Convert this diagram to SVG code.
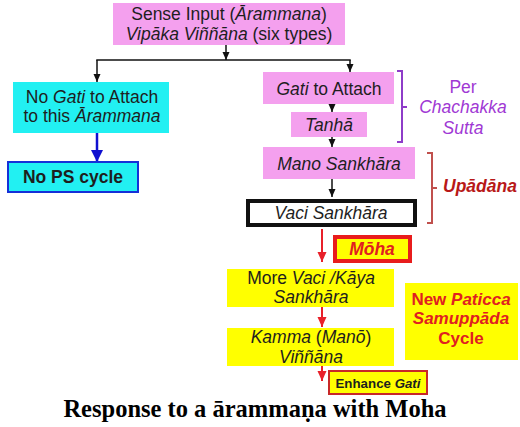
<svg xmlns="http://www.w3.org/2000/svg" width="520" height="427" viewBox="0 0 520 427">
<defs>
<style>
text{font-family:"Liberation Sans",Arial,sans-serif;font-size:17.5px;fill:#1e1e1e;text-anchor:middle}
.i{font-style:italic}
.b{font-weight:bold}
.pink{fill:#F4A0EE}
.cyan{fill:#22F0F2}
.yel{fill:#FFFF00}
.blk{stroke:#111;stroke-width:1.5;fill:none}
.red{stroke:#E8202A;stroke-width:2;fill:none}
</style>
<marker id="ab" markerUnits="userSpaceOnUse" markerWidth="8" markerHeight="8" refX="8" refY="4" orient="auto"><path d="M0,0.5 L8,4 L0,7.5 z" fill="#111"/></marker>
<marker id="ar" markerUnits="userSpaceOnUse" markerWidth="10" markerHeight="10" refX="10" refY="5" orient="auto"><path d="M0,0.5 L10,5 L0,9.5 z" fill="#E8202A"/></marker>
<marker id="au" markerUnits="userSpaceOnUse" markerWidth="12" markerHeight="12" refX="12" refY="6" orient="auto"><path d="M0,0 L12,6 L0,12 z" fill="#1010D0"/></marker>
</defs>
<rect width="520" height="427" fill="#fff"/>

<g id="connectors">
<line class="blk" x1="226" y1="45" x2="226" y2="60" marker-end="url(#ab)"/>
<line class="blk" x1="96.25" y1="60" x2="350.75" y2="60"/>
<line class="blk" x1="97" y1="60" x2="97" y2="82" marker-end="url(#ab)"/>
<line class="blk" x1="350" y1="60" x2="350" y2="72" marker-end="url(#ab)"/>
<line x1="97" y1="133" x2="97" y2="162" stroke="#1010D0" stroke-width="2.5" marker-end="url(#au)"/>
<line class="blk" x1="332" y1="104" x2="332" y2="112" marker-end="url(#ab)"/>
<line class="blk" x1="332" y1="137" x2="332" y2="147" marker-end="url(#ab)"/>
<line class="blk" x1="332" y1="179" x2="332" y2="197" marker-end="url(#ab)"/>
<line class="red" x1="322" y1="229" x2="322" y2="262" marker-end="url(#ar)"/>
<line class="red" x1="322" y1="307" x2="322" y2="327" marker-end="url(#ar)"/>
<line class="red" x1="322" y1="366" x2="322" y2="381" marker-end="url(#ar)"/>
<path d="M397,71 H402 V142 H397 M402,107 H407" stroke="#8E3CC8" stroke-width="2" fill="none"/>
<path d="M427,153 H432 V223 H427 M432,188 H437" stroke="#C0504D" stroke-width="2" fill="none"/>
</g>

<g id="sense-input">
<rect class="pink" x="113" y="3" width="232" height="42"/>
<text x="229" y="20">Sense Input (<tspan class="i">Ārammana</tspan>)</text>
<text x="229" y="40"><tspan class="i">Vipāka Viññāna</tspan> (six types)</text>
</g>

<g id="no-gati">
<rect class="cyan" x="13" y="82" width="156" height="51"/>
<text x="92" y="103">No <tspan class="i">Gati</tspan> to Attach</text>
<text x="92" y="122">to this <tspan class="i">Ārammana</tspan></text>
</g>

<g id="no-ps-cycle">
<rect class="cyan" x="8" y="162" width="130" height="30" stroke="#1530D8" stroke-width="2"/>
<text class="b" x="73" y="183">No PS cycle</text>
</g>

<g id="gati-attach">
<rect class="pink" x="263" y="72" width="131" height="32"/>
<text x="329" y="95"><tspan class="i">Gati</tspan> to Attach</text>
</g>

<g id="tanha">
<rect class="pink" x="291" y="112" width="76" height="25"/>
<text class="i" x="329" y="131">Tanhā</text>
</g>

<g id="mano-sankhara">
<rect class="pink" x="263" y="147" width="152" height="32"/>
<text class="i" x="339" y="170">Mano Sankhāra</text>
</g>

<g id="vaci-sankhara">
<rect x="248" y="201" width="167" height="24" fill="#fff" stroke="#111" stroke-width="4"/>
<text class="i" x="331" y="219">Vaci Sankhāra</text>
</g>

<g id="moha">
<rect class="yel" x="335" y="237" width="75" height="24" stroke="#E81C1C" stroke-width="4"/>
<text class="i b" x="372" y="255" style="fill:#E02020">Mōha</text>
</g>

<g id="more-vaci">
<rect class="yel" x="227" y="269" width="167" height="38"/>
<text x="311" y="284">More <tspan class="i">Vaci /Kāya</tspan></text>
<text class="i" x="311" y="303">Sankhāra</text>
</g>

<g id="kamma">
<rect class="yel" x="227" y="328" width="167" height="38"/>
<text x="311" y="343"><tspan class="i">Kamma</tspan> (<tspan class="i">Manō</tspan>)</text>
<text class="i" x="311" y="363">Viññāna</text>
</g>

<g id="enhance-gati">
<rect class="yel" x="329" y="371" width="98" height="23" stroke="#C82828" stroke-width="2"/>
<text class="b" x="378" y="388" style="font-size:13.3px">Enhance <tspan class="i">Gati</tspan></text>
</g>

<g id="new-ps-cycle">
<rect class="yel" x="405" y="283" width="113" height="77"/>
<text class="b" x="461" y="305" style="fill:#E02020;font-size:17px">New <tspan class="i">Paticca</tspan></text>
<text class="b i" x="461" y="324" style="fill:#E02020;font-size:17px">Samuppāda</text>
<text class="b" x="461" y="344" style="fill:#E02020;font-size:17px">Cycle</text>
</g>

<g id="labels">
<text x="463" y="93" style="fill:#A038D4">Per</text>
<text class="i" x="463" y="113" style="fill:#A038D4">Chachakka</text>
<text class="i" x="463" y="134" style="fill:#A038D4">Sutta</text>
<text class="b i" x="443" y="192" style="fill:#B81818;text-anchor:start">Upādāna</text>
<text class="b" x="255" y="417" style="font-family:'Liberation Serif','Times New Roman',serif;font-size:24.5px;fill:#000">Response to a ārammaṇa with Moha</text>
</g>
</svg>
